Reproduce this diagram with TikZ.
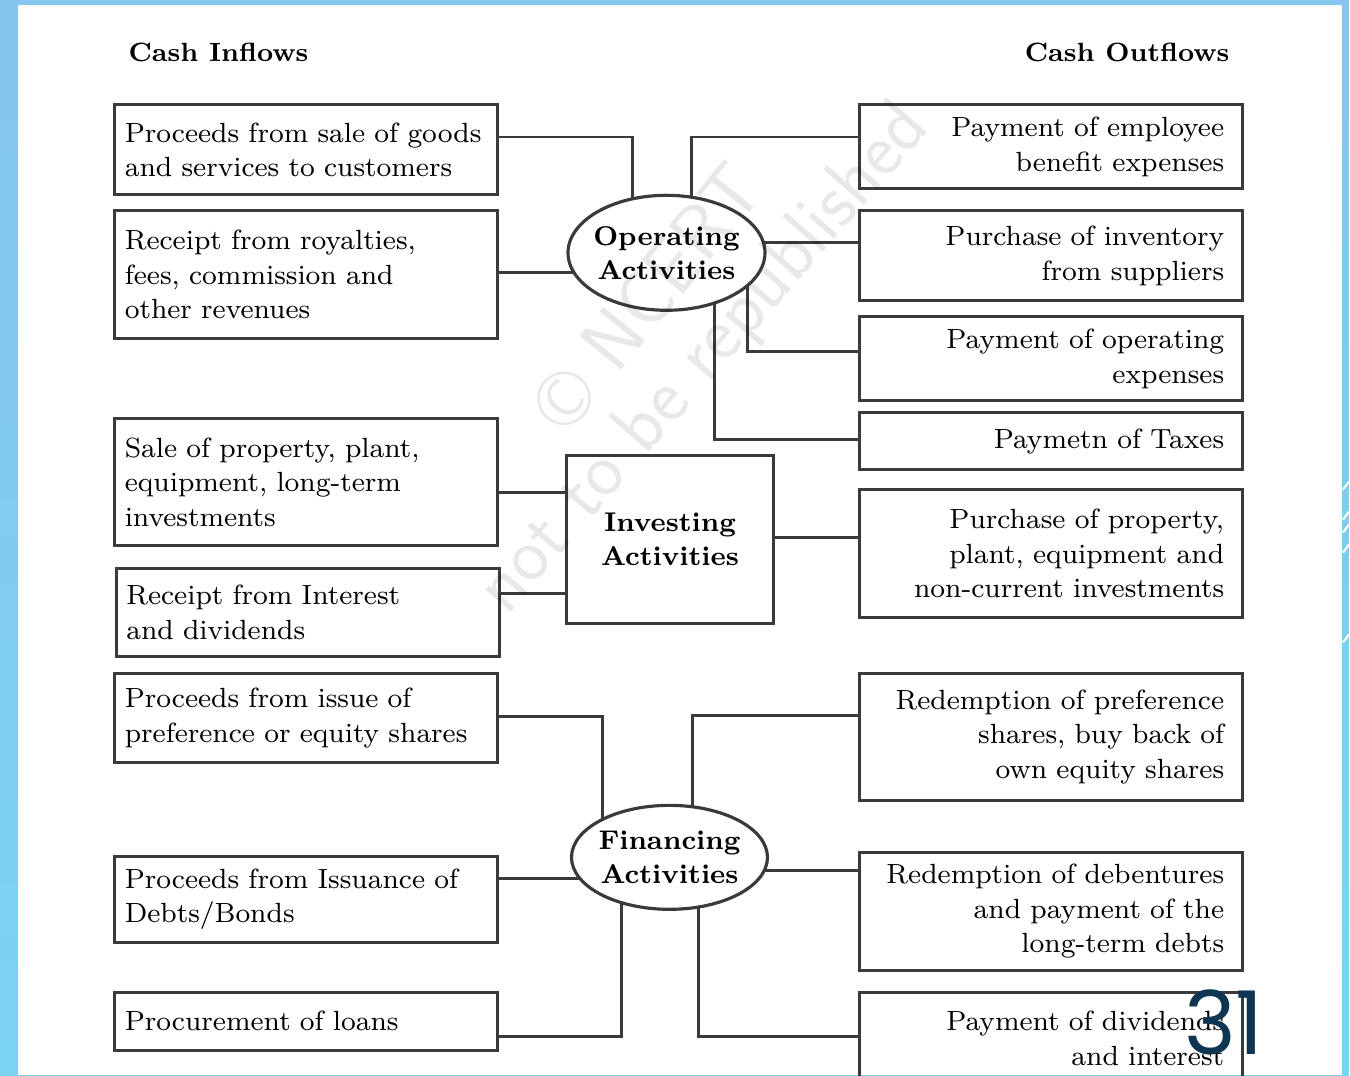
\documentclass[tikz,border=0pt]{standalone}
\usepackage{fontspec}
\newfontfamily\pagenumfont{Poppins}
\usetikzlibrary{calc,shapes.geometric,backgrounds}

\definecolor{slideblue}{HTML}{86C5EE}
\definecolor{slidecyan}{HTML}{7BD3F2}
\definecolor{boxline}{HTML}{3A3A3A}
\definecolor{pagenum}{HTML}{0E3552}

\tikzset{
  flowbox/.style = {draw=boxline, line width=0.9pt, rectangle, inner sep=0pt,
                    font=\fontsize{7.9}{9.8}\selectfont},
  inbox/.style = {flowbox, text width=3.63cm, inner xsep=0.10cm, align=left},
  outbox/.style = {flowbox, text width=3.47cm, inner xsep=0.18cm, align=right},
  activity/.style = {draw=boxline, line width=0.9pt, fill=white, inner sep=0pt,
                     align=center, font=\fontsize{7.7}{9.7}\selectfont\bfseries},
  heading/.style = {inner sep=0pt, font=\fontsize{7.5}{10}\selectfont\bfseries},
  link/.style = {draw=boxline, line width=0.75pt},
  watermark/.style = {font=\fontsize{22}{26}\selectfont\sffamily, text=black, opacity=0.09},
}

\begin{document}
\begin{tikzpicture}[x=0.01cm, y=-0.01cm]

% slide frame
\begin{scope}[on background layer]
\shade[top color=slideblue, bottom color=slidecyan] (0,0) rectangle (1350,1076);
\fill[white] (18,5) rectangle (1343,1076);
\foreach \y in {490,520,533,553,643}
  \draw[white, line width=0.6pt] (1344,\y) -- (1350,\y-8);
\end{scope}
\useasboundingbox (0,0) rectangle (1350,1076);

% headings
\node[heading, anchor=west] (inflow) at (128,52) {Cash Inflows};
\node[heading, anchor=east] (outflow) at (1231,52) {Cash Outflows};

% cash inflows
\node[inbox, minimum height=0.90cm] (L1) at (306.5,150) {Proceeds from sale of goods\\and services to customers};
\node[inbox, minimum height=1.28cm] (L2) at (306.5,275) {Receipt from royalties,\\fees, commission and\\other revenues};
\node[inbox, minimum height=1.27cm] (L3) at (306.5,482.5) {Sale of property, plant,\\equipment, long-term\\investments};
\node[inbox, minimum height=0.88cm] (L4) at (308,613) {Receipt from Interest\\and dividends};
\node[inbox, minimum height=0.89cm] (L5) at (306.5,718.5) {Proceeds from issue of\\preference or equity shares};
\node[inbox, minimum height=0.86cm] (L6) at (306.5,900) {Proceeds from Issuance of\\Debts/Bonds};
\node[inbox, minimum height=0.58cm] (L7) at (306.5,1022) {Procurement of loans};

% cash outflows
\node[outbox, minimum height=0.84cm] (R1) at (1051.5,147) {Payment of employee\\benefit expenses};
\node[outbox, minimum height=0.90cm] (R2) at (1051.5,256) {Purchase of inventory\\from suppliers};
\node[outbox, minimum height=0.84cm] (R3) at (1051.5,359) {Payment of operating\\expenses};
\node[outbox, minimum height=0.57cm] (R4) at (1051.5,441.5) {Paymetn of Taxes};
\node[outbox, minimum height=1.28cm] (R5) at (1051.5,554) {Purchase of property,\\plant, equipment and\\non-current investments};
\node[outbox, minimum height=1.27cm] (R6) at (1051.5,737.5) {Redemption of preference\\shares, buy back of\\own equity shares};
\node[outbox, minimum height=1.18cm] (R7) at (1051.5,912) {Redemption of debentures\\and payment of the\\long-term debts};
\node[outbox, minimum height=0.92cm] (R8) at (1051.5,1039) {Payment of dividends\\and interest};

% activities
\node[activity, ellipse, inner xsep=-0.1cm, minimum width=1.97cm, minimum height=1.15cm] (op) at (667,253) {Operating\\Activities};
\node[activity, rectangle, minimum width=2.07cm, minimum height=1.68cm] (inv) at (670.5,540) {Investing\\Activities};
\node[activity, ellipse, inner xsep=-0.1cm, minimum width=1.96cm, minimum height=1.04cm] (fin) at (670,858) {Financing\\Activities};

% connectors
\begin{scope}[on background layer]
\draw[link] (L1.east |- 0,137) -| ($(op)+(-34,0)$);
\draw[link] (L2.east |- 0,273) -- (op |- 0,273);
\draw[link] (R1.west |- 0,137) -| ($(op)+(25,0)$);
\draw[link] (R2.west |- 0,243) -- (op |- 0,243);
\draw[link] (R3.west |- 0,352) -| ($(op)+(81,0)$);
\draw[link] (R4.west |- 0,440) -| ($(op)+(48,0)$);
\draw[link] (L3.east |- 0,493) -- (inv.west |- 0,493);
\draw[link] (L4.east |- 0,594) -- (inv.west |- 0,594);
\draw[link] (R5.west |- 0,538) -- (inv.east |- 0,538);
\draw[link] (L5.east |- 0,717) -| ($(fin)+(-67,0)$);
\draw[link] (L6.east |- 0,879) -- (fin |- 0,879);
\draw[link] (L7.east |- 0,1037) -| ($(fin)+(-48,0)$);
\draw[link] (R6.west |- 0,716) -| ($(fin)+(23,0)$);
\draw[link] (R7.west |- 0,871) -- (fin |- 0,871);
\draw[link] (R8.west |- 0,1037) -| ($(fin)+(29,0)$);
\end{scope}

% watermark and slide number
\node[watermark, rotate=51] (wm1) at (648,297) {© NCERT};
\node[watermark, rotate=49] (wm2) at (705,360) {not to be republished};
\node[font=\pagenumfont\fontsize{25}{25}\selectfont, text=pagenum] (pgnum) at (1225,1023) {31};

\end{tikzpicture}
\end{document}
